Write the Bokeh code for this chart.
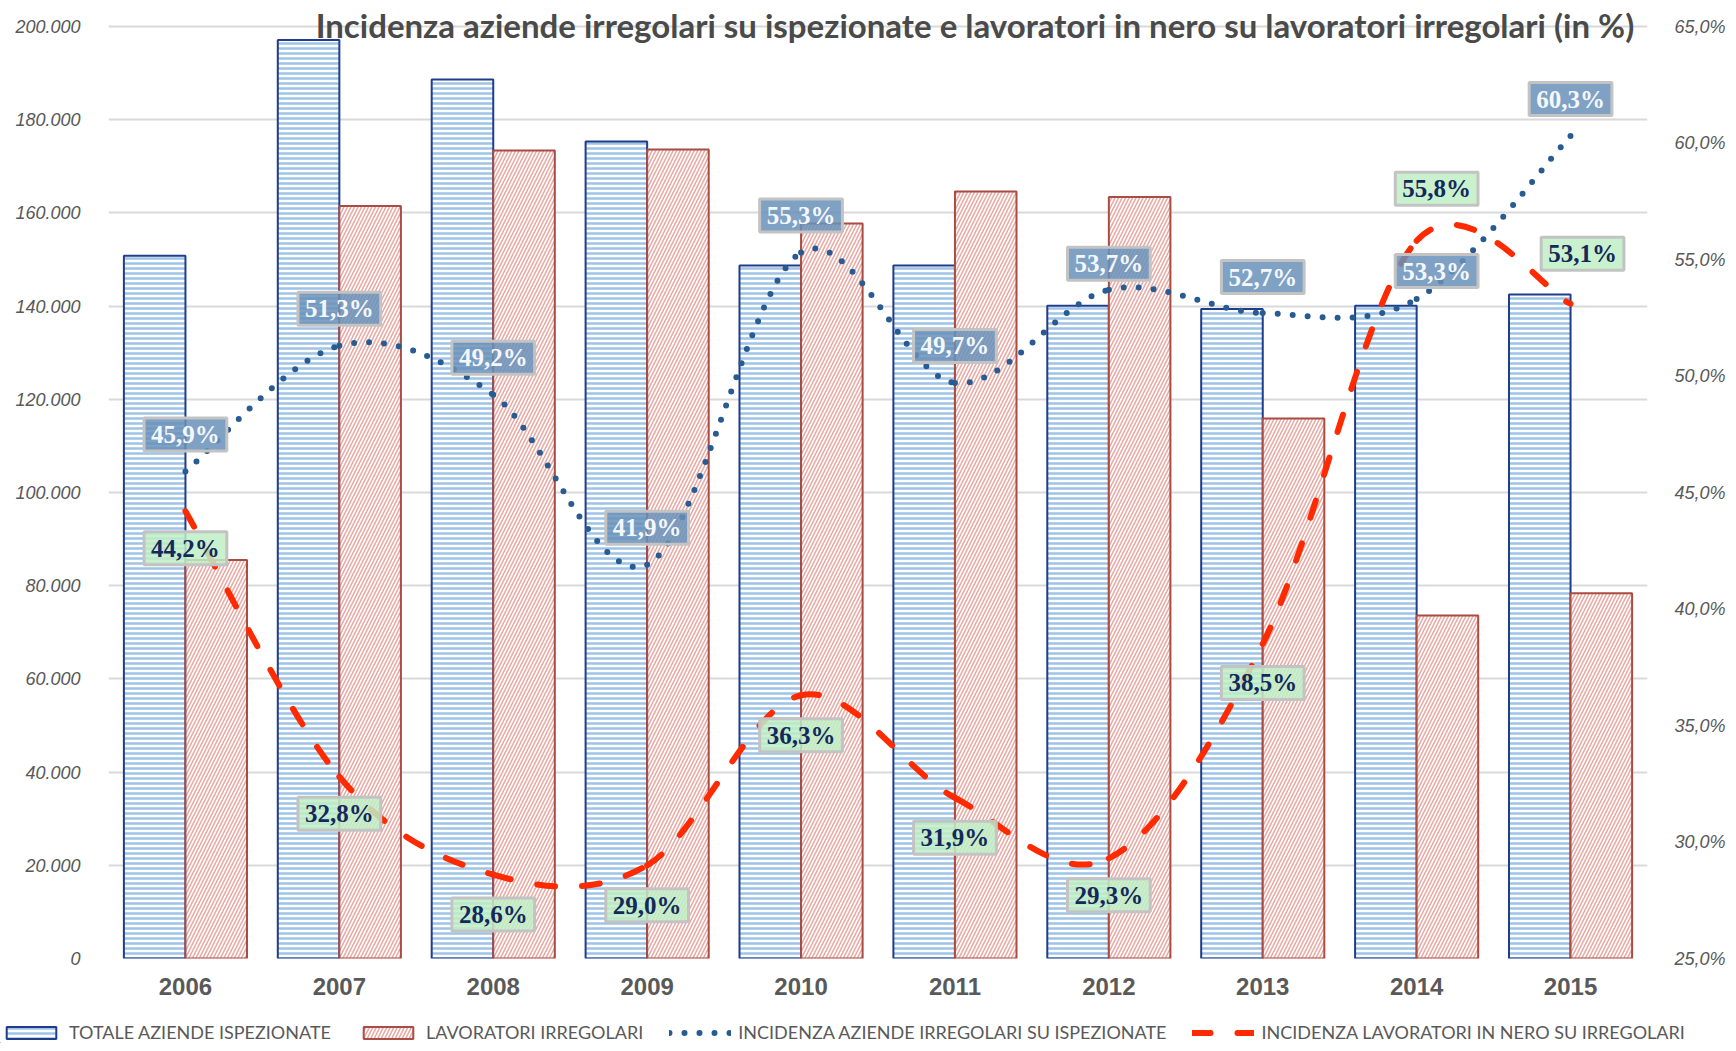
import numpy as np
from bokeh.plotting import figure
from bokeh.models import (ColumnDataSource, Range1d, LinearAxis, FixedTicker,
                          Label, Legend, LegendItem)
from bokeh.embed import file_html
from bokeh.resources import INLINE

# ---------------- data ----------------
years = ["2006", "2007", "2008", "2009", "2010", "2011", "2012", "2013", "2014", "2015"]
aziende_ispezionate = [150800, 197100, 188600, 175300, 148700, 148700, 140100, 139400, 140100, 142500]
lavoratori_irregolari = [85500, 161500, 173400, 173600, 157700, 164600, 163400, 115900, 73600, 78400]
inc_aziende_irregolari = [45.9, 51.3, 49.2, 41.9, 55.3, 49.7, 53.7, 52.7, 53.3, 60.3]
inc_lavoratori_nero = [44.2, 32.8, 28.6, 29.0, 36.3, 31.9, 29.3, 38.5, 55.8, 53.1]

left_ticks = [0, 20000, 40000, 60000, 80000, 100000, 120000, 140000, 160000, 180000, 200000]
left_tick_labels = ["0", "20.000", "40.000", "60.000", "80.000", "100.000",
                    "120.000", "140.000", "160.000", "180.000", "200.000"]
right_ticks = [25, 30, 35, 40, 45, 50, 55, 60, 65]
right_tick_labels = ["25,0%", "30,0%", "35,0%", "40,0%", "45,0%", "50,0%", "55,0%", "60,0%", "65,0%"]

title_text = "Incidenza aziende irregolari su ispezionate e lavoratori in nero su lavoratori irregolari (in %)"
legend_labels = ["TOTALE AZIENDE ISPEZIONATE", "LAVORATORI IRREGOLARI",
                 "INCIDENZA AZIENDE IRREGOLARI SU ISPEZIONATE",
                 "INCIDENZA LAVORATORI IN NERO SU IRREGOLARI"]

# label placement (screen px offsets)
blue_lab_dy = [37, 37, 37, 37, 37, 37, 26, 36, 28, 37]
blue_lab_dx = [0, 0, 0, 0, 0, 0, 0, 0, 20, 0]
green_lab_dy = [-37, -37, -40, -40, -40, -40, -37, -39, 52, 50]
green_lab_dx = [0, 0, 0, 0, 0, 0, 0, 0, 20, 12]

GRAY = "#595959"
n = len(years)
xi = np.arange(n, dtype=float)

# layout in px
W = 1728
TOP_PX = 26        # space above the 200.000 gridline (inside frame, for the title)
PLOT_PX = 932      # 0 .. 200.000
MAIN_H = 1005
LEG_H = 38
FRAME_H = TOP_PX + PLOT_PX
y_end = 200000 * FRAME_H / PLOT_PX
pct_end = 25 + 40 * FRAME_H / PLOT_PX

p = figure(width=W, height=MAIN_H, x_range=Range1d(-0.5, n - 0.5),
           y_range=Range1d(0, y_end), output_backend="svg", toolbar_location=None,
           min_border_left=108, min_border_right=76, min_border_top=0,
           min_border_bottom=MAIN_H - FRAME_H)
p.outline_line_color = None
p.background_fill_color = "white"
p.extra_y_ranges = {"pct": Range1d(25, pct_end)}

# axes
xa = p.xaxis[0]
xa.ticker = FixedTicker(ticks=list(range(n)))
xa.major_label_overrides = {i: y for i, y in enumerate(years)}
xa.axis_line_color = None
xa.major_tick_line_color = None
xa.minor_tick_line_color = None
xa.major_label_text_font = "Liberation Sans"
xa.major_label_text_font_style = "bold"
xa.major_label_text_font_size = "24px"
xa.major_label_text_color = GRAY
xa.major_label_standoff = 13

ya = p.yaxis[0]
ya.ticker = FixedTicker(ticks=left_ticks)
ya.major_label_overrides = {t: l for t, l in zip(left_ticks, left_tick_labels)}
ya.axis_line_color = None
ya.major_tick_line_color = None
ya.minor_tick_line_color = None
ya.major_label_text_font = "Liberation Sans"
ya.major_label_text_font_style = "italic"
ya.major_label_text_font_size = "18px"
ya.major_label_text_color = GRAY
ya.major_label_standoff = 22

ra = LinearAxis(y_range_name="pct", ticker=FixedTicker(ticks=right_ticks))
ra.major_label_overrides = {t: l for t, l in zip(right_ticks, right_tick_labels)}
ra.axis_line_color = None
ra.major_tick_line_color = None
ra.minor_tick_line_color = None
ra.major_label_text_font = "Liberation Sans"
ra.major_label_text_font_style = "italic"
ra.major_label_text_font_size = "18px"
ra.major_label_text_color = GRAY
ra.major_label_standoff = 21
p.add_layout(ra, "right")

p.xgrid.visible = False
p.ygrid.grid_line_color = "#d9d9d9"
p.ygrid.grid_line_width = 2

# bar styles
blue_bar = dict(fill_color="white", hatch_pattern="horizontal_line", hatch_color="#9dc3e6",
                hatch_scale=5, hatch_weight=2.5, line_color="#1f3d8a", line_width=2)
red_bar = dict(fill_color="white", hatch_pattern="right_diagonal_line", hatch_color="#e8aaa4",
               hatch_scale=7, hatch_weight=1.6, line_color="#a84c44", line_width=2)

src = ColumnDataSource(dict(xb=xi - 0.2, xr=xi + 0.2,
                            az=aziende_ispezionate, lav=lavoratori_irregolari))
p.vbar(x="xb", top="az", bottom=0, width=0.4, source=src, **blue_bar)
p.vbar(x="xr", top="lav", bottom=0, width=0.4, source=src, **red_bar)

# smooth lines (Excel-style cubic Bezier through the points)
def bezier_source(xs, ys):
    m = len(xs)
    d = dict(x0=[], y0=[], x1=[], y1=[], cx0=[], cy0=[], cx1=[], cy1=[])
    for i in range(m - 1):
        pm = max(i - 1, 0)
        pp = min(i + 2, m - 1)
        d["x0"].append(xs[i]); d["y0"].append(ys[i])
        d["x1"].append(xs[i + 1]); d["y1"].append(ys[i + 1])
        d["cx0"].append(xs[i] + (xs[i + 1] - xs[pm]) / 6.0)
        d["cy0"].append(ys[i] + (ys[i + 1] - ys[pm]) / 6.0)
        d["cx1"].append(xs[i + 1] - (xs[pp] - xs[i]) / 6.0)
        d["cy1"].append(ys[i + 1] - (ys[pp] - ys[i]) / 6.0)
    return ColumnDataSource(d)

blue_style = dict(line_color="#275b92", line_width=6, line_dash="0 15", line_cap="round")
red_style = dict(line_color="#ff2a00", line_width=6, line_dash="18 27", line_cap="round")

p.bezier(x0="x0", y0="y0", x1="x1", y1="y1", cx0="cx0", cy0="cy0", cx1="cx1", cy1="cy1",
         source=bezier_source(list(xi), inc_aziende_irregolari), y_range_name="pct", **blue_style)
p.bezier(x0="x0", y0="y0", x1="x1", y1="y1", cx0="cx0", cy0="cy0", cx1="cx1", cy1="cy1",
         source=bezier_source(list(xi), inc_lavoratori_nero), y_range_name="pct", **red_style)

# data labels
def pct_text(v):
    return ("%.1f" % v).replace(".", ",") + "%"

for i in range(n):
    p.add_layout(Label(x=xi[i], y=inc_aziende_irregolari[i], y_range_name="pct",
                       x_offset=blue_lab_dx[i], y_offset=blue_lab_dy[i],
                       text=pct_text(inc_aziende_irregolari[i]),
                       text_font="Liberation Serif", text_font_style="bold",
                       text_font_size="25px", text_color="#f4f7fb",
                       text_align="center", text_baseline="middle",
                       background_fill_color="#6890b8", background_fill_alpha=0.85,
                       border_line_color="#c3c3c3", border_line_width=3, padding=(7, 3)))
    p.add_layout(Label(x=xi[i], y=inc_lavoratori_nero[i], y_range_name="pct",
                       x_offset=green_lab_dx[i], y_offset=green_lab_dy[i],
                       text=pct_text(inc_lavoratori_nero[i]),
                       text_font="Liberation Serif", text_font_style="bold",
                       text_font_size="25px", text_color="#14285a",
                       text_align="center", text_baseline="middle",
                       background_fill_color="#c0eec6", background_fill_alpha=0.85,
                       border_line_color="#c3c3c3", border_line_width=3, padding=(7, 3)))

# title (inside the frame, overlapping the top gridline as in the original)
p.add_layout(Label(x=5.13, y=200000, y_offset=2, text=title_text, text_align="center",
                   text_baseline="middle", text_font="Lato",
                   text_font_style="bold", text_font_size="33px", text_color="#4a4a4a"))

# ---------------- legend strip ----------------
lg = figure(width=W, height=LEG_H, x_range=Range1d(0, 1), y_range=Range1d(0, 1),
            x_axis_location=None, y_axis_location=None, output_backend="svg",
            toolbar_location=None, min_border=0)
lg.outline_line_color = None
lg.grid.visible = False
# legend swatches (kept outside the visible range of this strip)
r1 = lg.vbar(x=[-5], top=[-5], bottom=[-6], width=0.1, **blue_bar)
r2 = lg.vbar(x=[-5], top=[-5], bottom=[-6], width=0.1, **red_bar)
r3 = lg.line(x=[-5, -4], y=[-5, -5], **blue_style)
r4 = lg.line(x=[-5, -4], y=[-5, -5], **red_style)
legend = Legend(items=[LegendItem(label=legend_labels[0], renderers=[r1]),
                       LegendItem(label=legend_labels[1], renderers=[r2]),
                       LegendItem(label=legend_labels[2], renderers=[r3]),
                       LegendItem(label=legend_labels[3], renderers=[r4])],
                location="bottom_left", orientation="horizontal",
                border_line_color=None, background_fill_alpha=0, padding=0, margin=0,
                spacing=26, glyph_width=62, glyph_height=15, label_standoff=7,
                label_height=20, label_text_font="Lato",
                label_text_font_size="18px", label_text_color=GRAY)
lg.add_layout(legend)

open("out.html", "w").write(file_html([p, lg], INLINE))
